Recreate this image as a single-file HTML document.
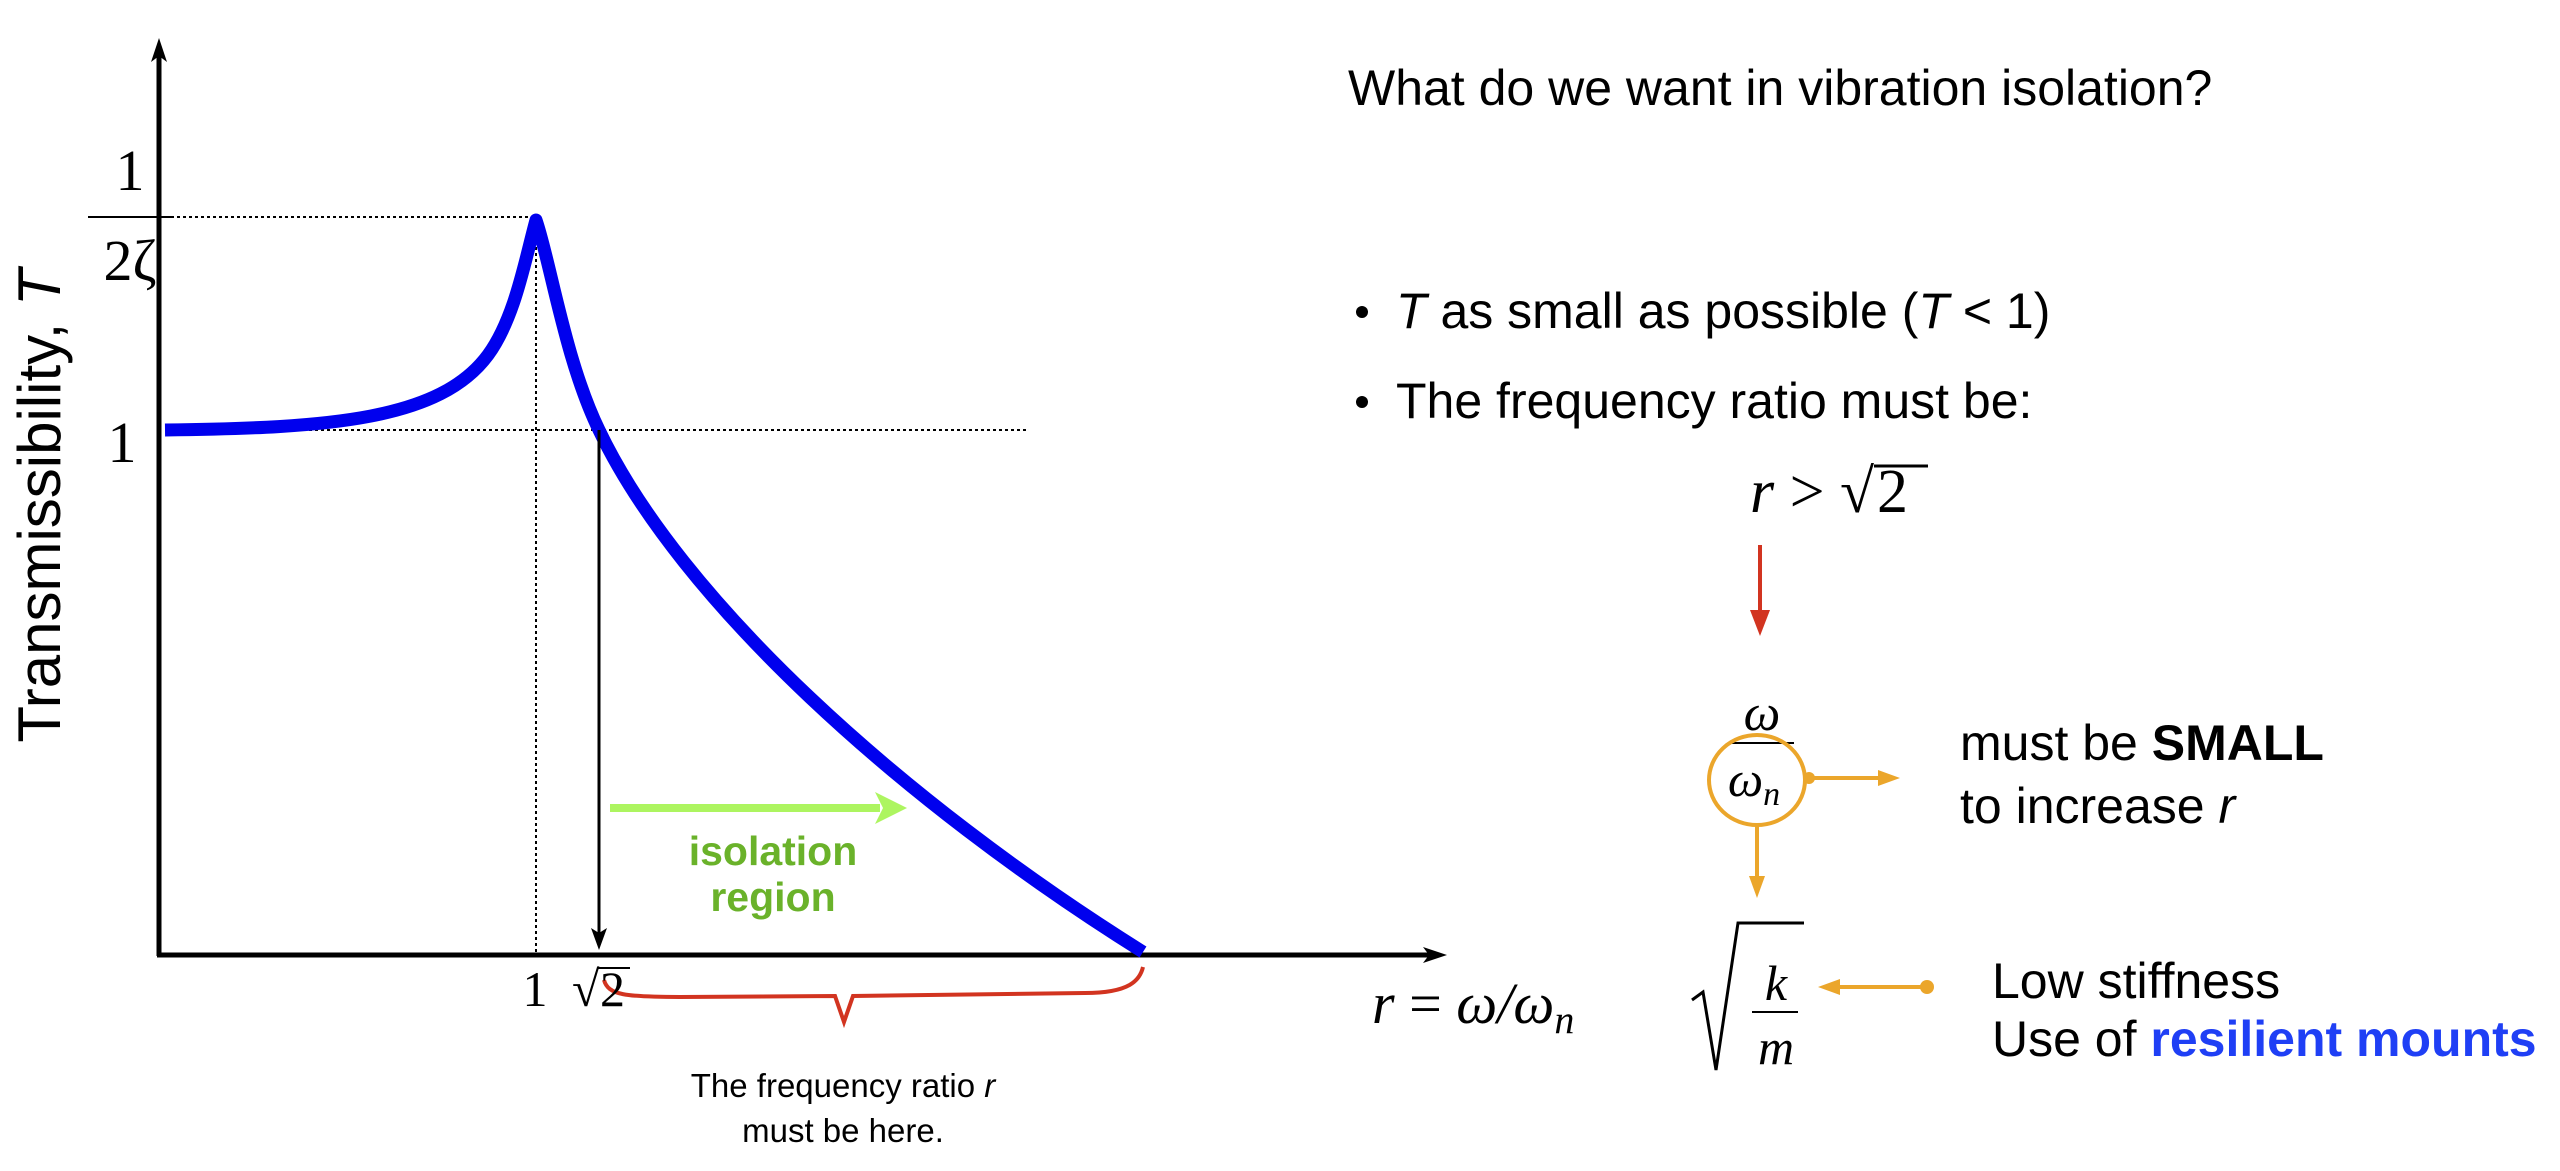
<!DOCTYPE html>
<html><head><meta charset="utf-8"><style>
html,body{margin:0;padding:0;background:#fff;}
svg{display:block;}
.s{font-family:"Liberation Sans",sans-serif;}
.m{font-family:"Liberation Serif",serif;}
</style></head><body>
<svg width="2560" height="1171" viewBox="0 0 2560 1171" xmlns="http://www.w3.org/2000/svg">
<!-- axes -->
<line x1="159" y1="956" x2="159" y2="48" stroke="#000" stroke-width="5"/>
<path d="M159,38 L151,62 L159,56 L167,62 Z" fill="#000"/>
<line x1="157" y1="955" x2="1436" y2="955" stroke="#000" stroke-width="5"/>
<path d="M1447,955 L1423,947 L1429,955 L1423,963 Z" fill="#000"/>
<!-- dotted guides -->
<line x1="165" y1="217" x2="536" y2="217" stroke="#000" stroke-width="2" stroke-dasharray="3,3"/>
<line x1="165" y1="430" x2="1029" y2="430" stroke="#000" stroke-width="2" stroke-dasharray="3,3"/>
<line x1="536" y1="217" x2="536" y2="953" stroke="#000" stroke-width="2" stroke-dasharray="3,3"/>
<!-- curve -->
<path d="M165,430 C330,428 440,420 488,355 C515,318 525,260 536,220 C550,260 565,360 599,430 C680,600 900,800 1143,952" fill="none" stroke="#0000ee" stroke-width="13" stroke-linejoin="round"/>
<!-- sqrt2 arrow -->
<line x1="599" y1="430" x2="599" y2="935" stroke="#000" stroke-width="3"/>
<path d="M599,950 L591,928 L599,933 L607,928 Z" fill="#000"/>
<!-- green arrow -->
<line x1="610" y1="808" x2="880" y2="808" stroke="#adf560" stroke-width="8"/>
<path d="M907,808 L875,792 L883,808 L875,824 Z" fill="#adf560"/>
<text class="s" x="773" y="865" font-size="41" font-weight="bold" fill="#6ab22a" text-anchor="middle">isolation</text>
<text class="s" x="773" y="911" font-size="41" font-weight="bold" fill="#6ab22a" text-anchor="middle">region</text>
<!-- brace -->
<path d="M604,980 C608,995 625,997 680,997 L835,996 L844,1022 L853,996 L1085,993 C1130,993 1140,980 1143,967" fill="none" stroke="#d23420" stroke-width="4"/>
<text class="s" x="843" y="1097" font-size="33" text-anchor="middle">The frequency ratio <tspan font-style="italic">r</tspan></text>
<text class="s" x="843" y="1142" font-size="33" text-anchor="middle">must be here.</text>
<!-- tick labels -->
<text class="m" x="535" y="1006" font-size="50" text-anchor="middle">1</text>
<text class="m" x="572" y="1006" font-size="50">√</text>
<text class="m" x="600" y="1006" font-size="50">2</text>
<line x1="597" y1="968" x2="630" y2="968" stroke="#000" stroke-width="2"/>
<text class="m" x="130" y="190" font-size="58" text-anchor="middle">1</text>
<line x1="88" y1="217" x2="172" y2="217" stroke="#000" stroke-width="2"/>
<text class="m" x="130" y="280" font-size="58" text-anchor="middle">2ζ</text>
<text class="m" x="122" y="462" font-size="58" text-anchor="middle">1</text>
<text class="s" transform="translate(60,506) rotate(-90)" font-size="60" text-anchor="middle">Transmissibility, <tspan font-style="italic">T</tspan></text>
<text class="m" x="1372" y="1023" font-size="58" font-style="italic">r <tspan font-style="normal">=</tspan> ω/ω<tspan font-size="40" dy="10">n</tspan></text>
<!-- right side -->
<text class="s" x="1348" y="105" font-size="50">What do we want in vibration isolation?</text>
<circle cx="1362" cy="312" r="6" fill="#000"/>
<text class="s" x="1396" y="328" font-size="50"><tspan font-style="italic">T</tspan> as small as possible (<tspan font-style="italic">T</tspan> &lt; 1)</text>
<circle cx="1362" cy="402" r="6" fill="#000"/>
<text class="s" x="1396" y="418" font-size="50">The frequency ratio must be:</text>
<text class="m" x="1750" y="512" font-size="62"><tspan font-style="italic">r</tspan> &gt;</text>
<text class="m" x="1840" y="512" font-size="62">√</text>
<text class="m" x="1877" y="512" font-size="62">2</text>
<line x1="1874" y1="466" x2="1928" y2="466" stroke="#000" stroke-width="3"/>
<!-- red arrow -->
<line x1="1760" y1="545" x2="1760" y2="612" stroke="#d23420" stroke-width="4"/>
<path d="M1760,636 L1750,610 L1770,610 Z" fill="#d23420"/>
<!-- omega fraction -->
<text class="m" x="1762" y="730" font-size="52" font-style="italic" text-anchor="middle">ω</text>
<line x1="1732" y1="743" x2="1794" y2="743" stroke="#000" stroke-width="2"/>
<text class="m" x="1754" y="796" font-size="50" font-style="italic" text-anchor="middle">ω<tspan font-size="34" dy="9">n</tspan></text>
<ellipse cx="1757" cy="780" rx="48" ry="45" fill="none" stroke="#eba62b" stroke-width="4"/>
<circle cx="1809" cy="778" r="6" fill="#eba62b"/>
<line x1="1809" y1="778" x2="1880" y2="778" stroke="#eba62b" stroke-width="4"/>
<path d="M1900,778 L1878,770 L1878,786 Z" fill="#eba62b"/>
<line x1="1757" y1="826" x2="1757" y2="878" stroke="#eba62b" stroke-width="4"/>
<path d="M1757,898 L1749,876 L1765,876 Z" fill="#eba62b"/>
<text class="s" x="1960" y="760" font-size="50">must be <tspan font-weight="bold">SMALL</tspan></text>
<text class="s" x="1960" y="823" font-size="50">to increase <tspan font-style="italic">r</tspan></text>
<!-- sqrt k/m -->
<path d="M1692,1000 L1703,992 L1716,1070 L1738,923 L1804,923" fill="none" stroke="#000" stroke-width="3"/>
<text class="m" x="1776" y="1000" font-size="50" font-style="italic" text-anchor="middle">k</text>
<line x1="1752" y1="1012" x2="1798" y2="1012" stroke="#000" stroke-width="2"/>
<text class="m" x="1776" y="1064" font-size="50" font-style="italic" text-anchor="middle">m</text>
<line x1="1838" y1="987" x2="1927" y2="987" stroke="#eba62b" stroke-width="4"/>
<path d="M1818,987 L1840,979 L1840,995 Z" fill="#eba62b"/>
<circle cx="1927" cy="987" r="7" fill="#eba62b"/>
<text class="s" x="1992" y="998" font-size="50">Low stiffness</text>
<text class="s" x="1992" y="1056" font-size="50">Use of <tspan font-weight="bold" fill="#1f3ff5">resilient mounts</tspan></text>
</svg>
</body></html>
